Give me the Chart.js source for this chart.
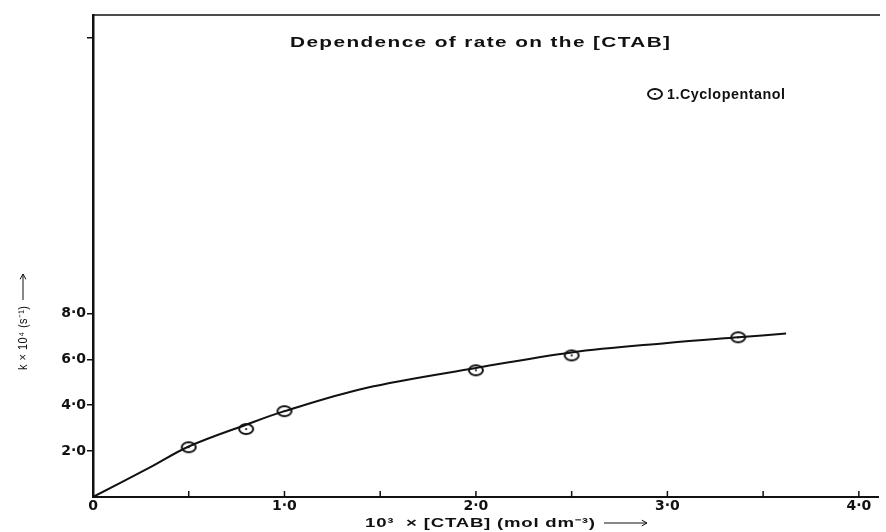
<!DOCTYPE html>
<html>
<head>
<meta charset="utf-8">
<title>Dependence of rate on the [CTAB]</title>
<script src="https://cdn.jsdelivr.net/npm/chart.js@4/dist/chart.umd.min.js"></script>
<style>
  html, body { margin: 0; padding: 0; background: #fff; }
  #rateChart { display: block; }
</style>
</head>
<body>
<canvas id="rateChart" width="886" height="532"></canvas>
<script>
// measured points (10^3 x [CTAB], k x 10^4)
const ctabConc = [0.5, 0.8, 1.0, 2.0, 2.5, 3.37];
const rateConst = [2.17, 2.96, 3.74, 5.52, 6.17, 6.96];

// hand-drawn smooth curve through the points
const curveConc = [0, 0.3, 0.5, 0.8, 1.0, 1.42, 2.0, 2.5, 3.0, 3.37, 3.62];
const curveRate = [0, 1.3, 2.2, 3.15, 3.74, 4.74, 5.62, 6.3, 6.71, 6.96, 7.12];

// axis ticks and labels
const xTicks = [0, 1, 2, 3, 4];
const xTickLabels = ['0', '1·0', '2·0', '3·0', '4·0'];
const xMinorTicks = [0.5, 1, 1.5, 2, 2.5, 3, 3.5, 4];
const yTicks = [2, 4, 6, 8, 20];
const yTickLabels = ['2·0', '4·0', '6·0', '8·0', ''];

const chartTitle = 'Dependence of rate on the [CTAB]';
const seriesName = '1.Cyclopentanol';
const xTitle = '10³  × [CTAB] (mol dm⁻³)';
const yTitle = 'k × 10⁴ (s⁻¹)';

// open circle with a dot in the middle, like the hand plotted markers
function makeMarker() {
  const c = document.createElement('canvas');
  c.width = 18;
  c.height = 14;
  const g = c.getContext('2d');
  g.strokeStyle = '#111';
  g.lineWidth = 2;
  g.beginPath();
  g.ellipse(9, 7, 7, 5, 0, 0, Math.PI * 2);
  g.stroke();
  g.fillStyle = '#111';
  g.beginPath();
  g.arc(9, 7, 1.1, 0, Math.PI * 2);
  g.fill();
  return c;
}
const marker = makeMarker();

// draw text widened (stretched sideways) to fill a given width
function wideText(ctx, text, x, y, width, spacing) {
  ctx.save();
  ctx.letterSpacing = spacing + 'px';
  const w = ctx.measureText(text).width - spacing;
  ctx.translate(x, y);
  ctx.scale(width / w, 1);
  ctx.fillText(text, 0, 0);
  ctx.restore();
}

function arrow(ctx, x1, y1, x2, y2) {
  const a = Math.atan2(y2 - y1, x2 - x1);
  ctx.beginPath();
  ctx.moveTo(x1, y1);
  ctx.lineTo(x2, y2);
  ctx.moveTo(x2 - 6 * Math.cos(a - 0.5), y2 - 6 * Math.sin(a - 0.5));
  ctx.lineTo(x2, y2);
  ctx.lineTo(x2 - 6 * Math.cos(a + 0.5), y2 - 6 * Math.sin(a + 0.5));
  ctx.stroke();
}

// title, legend, axis titles, top frame and the inward x ticks
const decorations = {
  id: 'decorations',
  afterDraw(chart) {
    const ctx = chart.ctx;
    const area = chart.chartArea;
    const xs = chart.scales.x;
    ctx.save();
    ctx.strokeStyle = '#111';
    ctx.fillStyle = '#111';

    // top frame line
    ctx.lineWidth = 1.5;
    ctx.beginPath();
    ctx.moveTo(area.left, area.top);
    ctx.lineTo(area.right + 2, area.top);
    ctx.stroke();

    // small upward ticks on the x axis
    ctx.lineWidth = 1.5;
    xMinorTicks.forEach(v => {
      const px = xs.getPixelForValue(v);
      ctx.beginPath();
      ctx.moveTo(px, area.bottom);
      ctx.lineTo(px, area.bottom - 6);
      ctx.stroke();
    });

    ctx.textAlign = 'left';
    ctx.textBaseline = 'alphabetic';

    // chart title
    ctx.font = 'bold 15px "Liberation Sans", Arial, sans-serif';
    wideText(ctx, chartTitle, 290, 47, 380, 1);

    // legend
    ctx.drawImage(marker, 646, 87);
    ctx.font = 'bold 14px "Liberation Sans", Arial, sans-serif';
    wideText(ctx, seriesName, 667, 99, 118, 0.5);

    // x axis title
    ctx.font = 'bold 12px "Liberation Sans", Arial, sans-serif';
    wideText(ctx, xTitle, 365, 527, 230, 0.5);
    ctx.lineWidth = 1;
    arrow(ctx, 604, 523, 647, 523);

    // y axis title, rotated
    ctx.save();
    ctx.translate(27, 370);
    ctx.rotate(-Math.PI / 2);
    ctx.font = '12px "Liberation Sans", Arial, sans-serif';
    wideText(ctx, yTitle, 0, 0, 64, 0.5);
    arrow(ctx, 70, -4, 96, -4);
    ctx.restore();

    ctx.restore();
  }
};

const ctx = document.getElementById('rateChart').getContext('2d');

new Chart(ctx, {
  type: 'scatter',
  data: {
    datasets: [
      {
        label: 'curve',
        data: curveConc.map((x, i) => ({ x: x, y: curveRate[i] })),
        showLine: true,
        borderColor: '#111',
        borderWidth: 2,
        pointRadius: 0,
        tension: 0.35,
        fill: false
      },
      {
        label: seriesName,
        data: ctabConc.map((x, i) => ({ x: x, y: rateConst[i] })),
        showLine: false,
        pointStyle: marker,
        pointRadius: 7
      }
    ]
  },
  options: {
    responsive: false,
    animation: false,
    layout: {
      padding: { top: 15, right: 2, left: 0, bottom: 0 }
    },
    plugins: {
      legend: { display: false },
      title: { display: false },
      tooltip: { enabled: false }
    },
    scales: {
      x: {
        type: 'linear',
        min: 0,
        max: 4.1,
        afterBuildTicks: scale => {
          scale.ticks = xTicks.map(v => ({ value: v }));
        },
        afterFit: scale => {
          scale.height = 35;
        },
        ticks: {
          color: '#111',
          font: { family: '"DejaVu Sans", sans-serif', size: 14, weight: 'bold' },
          padding: 1,
          maxRotation: 0,
          autoSkip: false,
          callback: (value) => {
            const i = xTicks.indexOf(value);
            return i >= 0 ? xTickLabels[i] : '';
          }
        },
        grid: {
          drawOnChartArea: false,
          drawTicks: false
        },
        border: { display: true, color: '#111', width: 2 }
      },
      y: {
        type: 'linear',
        min: 0,
        max: 21,
        afterBuildTicks: scale => {
          scale.ticks = yTicks.map(v => ({ value: v }));
        },
        afterFit: scale => {
          scale.width = 93;
        },
        ticks: {
          color: '#111',
          font: { family: '"DejaVu Sans", sans-serif', size: 14, weight: 'bold' },
          padding: 1,
          autoSkip: false,
          callback: (value) => {
            const i = yTicks.indexOf(value);
            return i >= 0 ? yTickLabels[i] : '';
          }
        },
        grid: {
          drawOnChartArea: false,
          drawTicks: true,
          tickLength: 6,
          color: '#111',
          lineWidth: 1.5
        },
        border: { display: true, color: '#111', width: 2.5 }
      }
    }
  },
  plugins: [decorations]
});
</script>
</body>
</html>
